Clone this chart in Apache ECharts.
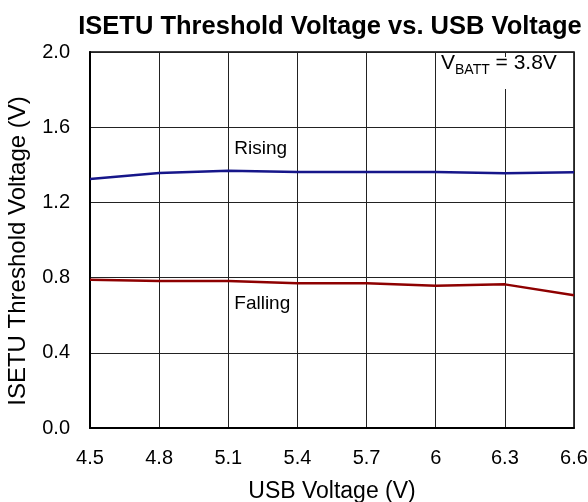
<!DOCTYPE html>
<html>
<head>
<meta charset="utf-8">
<script src="https://cdn.jsdelivr.net/npm/echarts@6/dist/echarts.min.js"></script>
<style>
html,body{margin:0;padding:0;background:#fff;}
#chart{width:588px;height:502px;}
</style>
</head>
<body>
<div id="chart"></div>
<script>
const usbVoltage = ['4.5','4.8','5.1','5.4','5.7','6','6.3','6.6'];
const rising  = [1.324, 1.356, 1.368, 1.362, 1.362, 1.362, 1.355, 1.360];
const falling = [0.789, 0.782, 0.782, 0.770, 0.770, 0.757, 0.764, 0.706];
const yTicks = [0, 0.4, 0.8, 1.2, 1.6, 2.0];

const FONT = 'Liberation Sans, Arial, Helvetica, sans-serif';
const chart = echarts.init(document.getElementById('chart'), null, {renderer:'canvas'});

chart.setOption({
  animation: false,
  backgroundColor: '#fff',
  title: {
    text: 'ISETU Threshold Voltage vs. USB Voltage',
    left: 325, top: 9, textAlign: 'center',
    textStyle: {fontFamily: FONT, fontSize: 25.5, fontWeight: 'bold', color: '#000'}
  },
  grid: {left: 90, right: 14, top: 52, bottom: 74, show: true, borderColor: '#000', borderWidth: 1.5, backgroundColor: 'transparent', outerBoundsMode: 'none', containLabel: false},
  xAxis: {
    type: 'category', data: usbVoltage, boundaryGap: false,
    name: 'USB Voltage (V)', nameLocation: 'middle', nameGap: 52,
    nameTextStyle: {fontFamily: FONT, fontSize: 23, color: '#000'},
    axisLine: {show: true, lineStyle: {color: '#000', width: 2}},
    axisTick: {show: false},
    axisLabel: {fontFamily: FONT, fontSize: 20, color: '#000', margin: 20},
    splitLine: {show: true, lineStyle: {color: '#222', width: 1}}
  },
  yAxis: {
    type: 'value', min: yTicks[0], max: yTicks[yTicks.length-1], interval: 0.4,
    name: 'ISETU Threshold Voltage (V)', nameLocation: 'middle', nameGap: 60,
    nameTextStyle: {fontFamily: FONT, fontSize: 24, color: '#000', padding: [0, 22, 0, 0]},
    axisLine: {show: true, lineStyle: {color: '#000', width: 2}},
    axisTick: {show: false},
    axisLabel: {fontFamily: FONT, fontSize: 20, color: '#000', margin: 20, formatter: v => v.toFixed(1)},
    splitLine: {show: true, lineStyle: {color: '#222', width: 1}}
  },
  series: [
    {name: 'Rising', type: 'line', data: rising, symbol: 'none', lineStyle: {color: '#16168a', width: 2.5}, itemStyle: {color: '#16168a'}},
    {name: 'Falling', type: 'line', data: falling, symbol: 'none', lineStyle: {color: '#8e0000', width: 2.5}, itemStyle: {color: '#8e0000'}}
  ]
});

const pR = chart.convertToPixel({gridIndex: 0}, ['5.1', 1.437]);
const pF = chart.convertToPixel({gridIndex: 0}, ['5.1', 0.61]);
chart.setOption({
  graphic: [
    {type: 'text', x: pR[0] + 6, y: pR[1], style: {text: 'Rising', font: '19px ' + FONT, fill: '#000', textVerticalAlign: 'bottom'}},
    {type: 'text', x: pF[0] + 6, y: pF[1], style: {text: 'Falling', font: '19px ' + FONT, fill: '#000', textVerticalAlign: 'bottom'}},
    {type: 'rect', shape: {x: 437, y: 57, width: 135, height: 32}, style: {fill: '#fff'}, z: 10},
    {type: 'text', x: 441, y: 62, z: 11, style: {
      text: '{a|V}{b|BATT}{a| = 3.8V}', verticalAlign: 'middle',
      rich: {
        a: {fontFamily: FONT, fontSize: 21, fill: '#000', verticalAlign: 'bottom', lineHeight: 24},
        b: {fontFamily: FONT, fontSize: 14, fill: '#000', verticalAlign: 'bottom', lineHeight: 24, padding: [0,0,-3,0]}
      }
    }}
  ]
});
</script>
</body>
</html>
